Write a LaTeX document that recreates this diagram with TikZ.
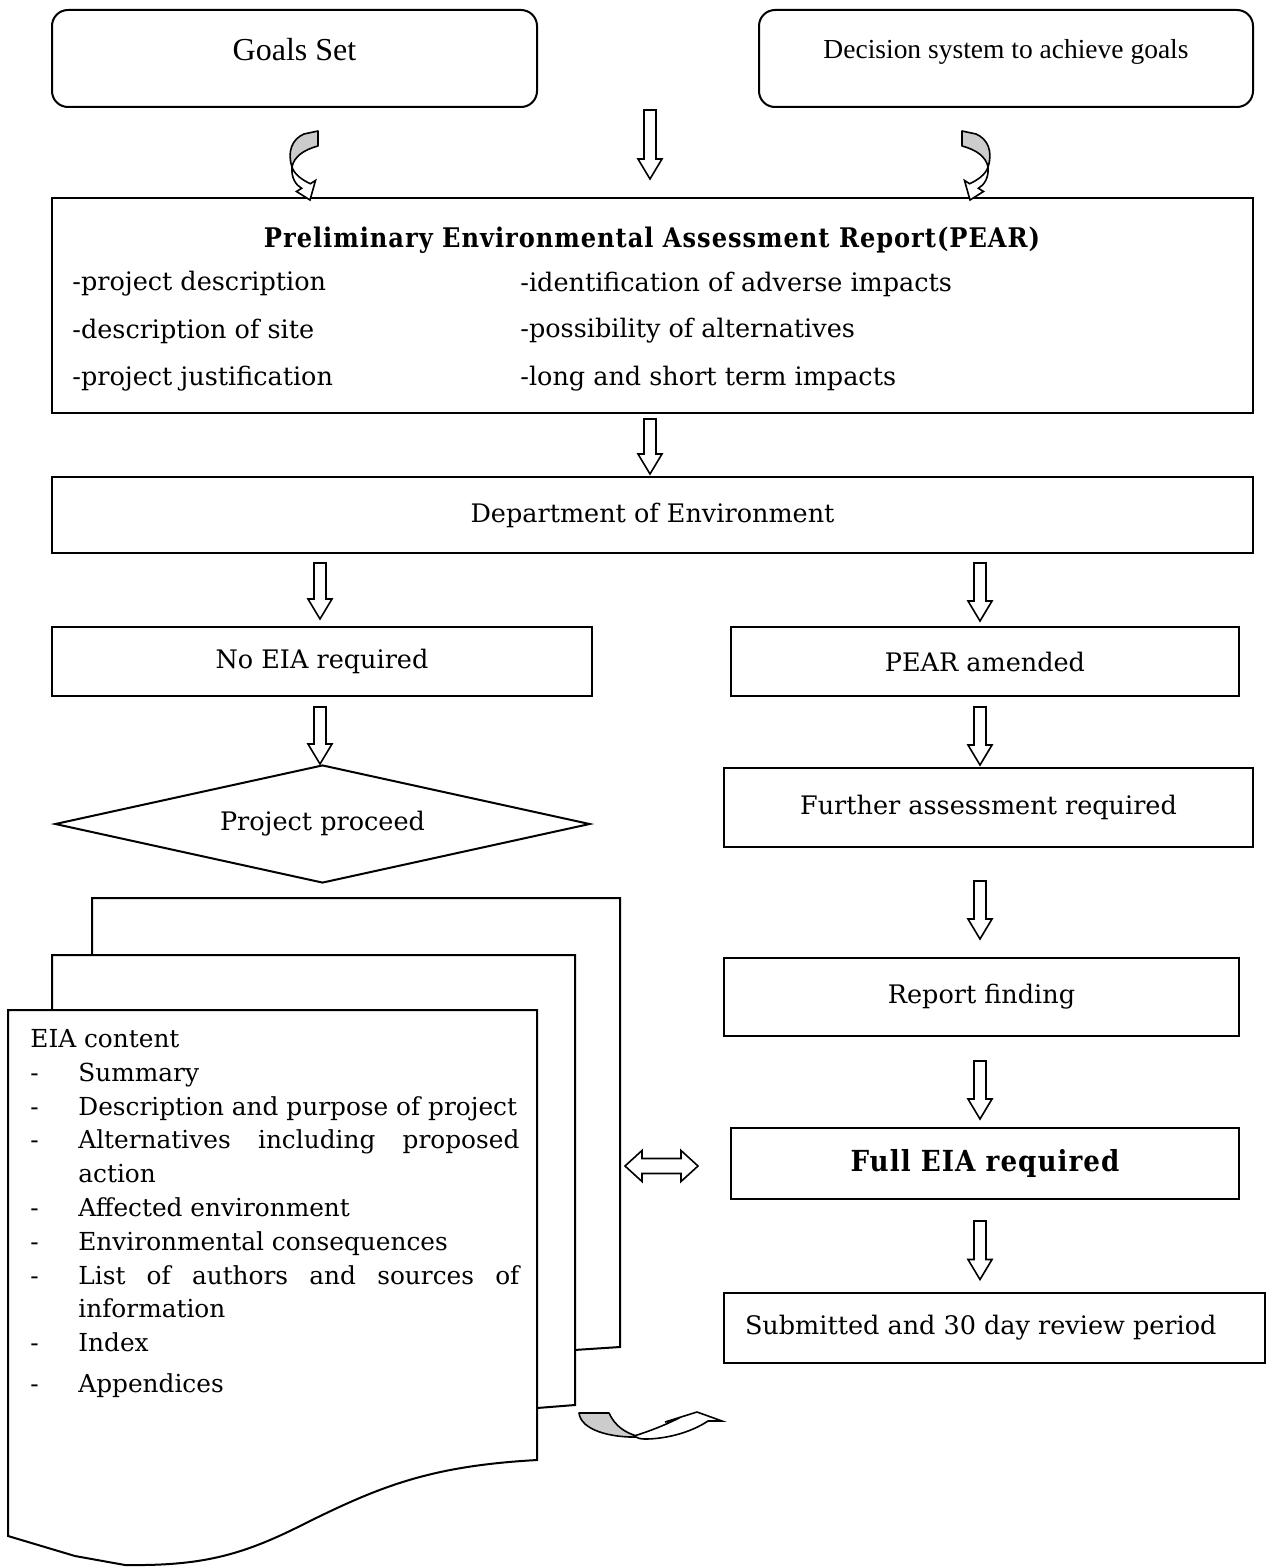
\documentclass[tikz,border=0pt]{standalone}
\usepackage{fontspec}
\setmainfont{DejaVu Serif}
\newfontfamily\timesfont{Liberation Serif}
\newfontfamily\headfont{DejaVu Serif}[LetterSpace=4]
\usetikzlibrary{shapes.geometric,calc}

\definecolor{twistgray}{RGB}{204,204,204}

\tikzset{
  box/.style={draw, line width=1pt, inner sep=0pt, align=center,
    font=\fontsize{12.75}{15}\selectfont},
  goalbox/.style={box, rounded corners=8pt, minimum height=48.5pt},
  item/.style={anchor=west, inner sep=0pt, font=\fontsize{12.75}{15}\selectfont},
  blk/.style={draw, line width=0.8pt, fill=white, line join=miter},
  page/.style={draw, line width=1pt, fill=white, line join=miter},
  twistgray/.style={draw, line width=0.8pt, fill=twistgray, line join=round},
  twistwhite/.style={draw, line width=0.8pt, fill=white, line join=miter},
}

% hollow block arrow pointing down: upper node, lower node, column, gap at top, gap at bottom (pt)
\newcommand\blockdown[5]{%
  \draw[blk] let \p1=(#1.south -| #3), \p2=(#2.north -| #3) in
    (\x1-3pt,\y1-#4pt) -- (\x1-3pt,\y2+#5pt+10pt) -- (\x1-6pt,\y2+#5pt+10pt)
    -- (\x1,\y2+#5pt) -- (\x1+6pt,\y2+#5pt+10pt) -- (\x1+3pt,\y2+#5pt+10pt)
    -- (\x1+3pt,\y1-#4pt) -- cycle;}

% twisted curved arrow (gray back, white front) pointing down
\newcommand\twistarrow{%
  \draw[twistgray] (304,134) -- (318,131) -- (318,146)
    .. controls (303,150) and (294,157) .. (292,167)
    .. controls (287,152) and (292,139) .. (304,134) -- cycle;
  \draw[twistwhite] (292,167) .. controls (291,178) and (296,185) .. (301.6,188.3)
    -- (296.5,191.5) -- (310,200) -- (315.5,180.5) -- (310.4,183.7)
    .. controls (302,180) and (294,174) .. (292,167) -- cycle;}

\begin{document}
\begin{tikzpicture}[x=0.5pt, y=-0.5pt]
\useasboundingbox (0,0) rectangle (1267,1568);

% columns for the block arrows
\coordinate (midcol) at (650,0);
\coordinate (leftcol) at (320,0);
\coordinate (rightcol) at (980,0);

% top row
\node[goalbox, minimum width=242.5pt, text height=10pt, text depth=8pt,
      font=\timesfont\fontsize{16}{18}\selectfont] (goals) at (294.5,58.5) {Goals Set};
\node[goalbox, minimum width=247pt, text height=9pt, text depth=8.5pt,
      font=\timesfont\fontsize{13.75}{16}\selectfont] (decision) at (1006,58.5)
      {Decision system to achieve goals};

% preliminary report
\node[box, minimum width=600.5pt, minimum height=107.5pt] (pear) at (652.5,305.5) {};
\node[inner sep=0pt] (peartitle) at (652,240)
  {\resizebox{388pt}{\height}{\headfont\bfseries\fontsize{13.5}{15}\selectfont Preliminary Environmental Assessment Report(PEAR)}};
\node[item] (i1) at (72,284) {-project description};
\node[item] (i2) at (72,331) {-description of site};
\node[item] (i3) at (72,379) {-project justification};
\node[item] (i4) at (520,284) {-identification of adverse impacts};
\node[item] (i5) at (520,331) {-possibility of alternatives};
\node[item] (i6) at (520,379) {-long and short term impacts};

\node[box, minimum width=600.5pt, minimum height=38pt] (dept) at (652.5,515) {Department of Environment};

% left branch
\node[box, minimum width=270pt, minimum height=34.5pt] (noeia) at (322,661.5) {No EIA required};
\node[draw, line width=1pt, shape=diamond, shape aspect=4.53, inner sep=0pt, minimum width=267.5pt,
      minimum height=59pt, font=\fontsize{12.75}{15}\selectfont] (proceed) at (322.5,824) {Project proceed};

% right branch
\node[box, minimum width=254pt, minimum height=34.5pt] (pearam) at (985,661.5) {PEAR amended};
\node[box, minimum width=264.5pt, minimum height=39.5pt] (further) at (988.5,807.5) {Further assessment required};
\node[box, minimum width=257.5pt, minimum height=39pt] (report) at (981.5,997) {Report finding};
\node[box, minimum width=254pt, minimum height=35.5pt] (full) at (985,1163.5)
  {\resizebox{134.5pt}{\height}{\headfont\bfseries\fontsize{14.5}{16}\selectfont Full EIA required}};
\node[box, minimum width=270.5pt, minimum height=35pt] (submitted) at (994.5,1327.5)
  {\makebox[270.5pt][l]{\hspace{10.5pt}Submitted and 30 day review period}};

% stacked EIA document
\draw[page] (92,898) -- (620,898) -- (620,1347) -- (574,1350) -- (92,1350) -- cycle;
\draw[page] (52,955) -- (575,955) -- (575,1405) -- (537,1408) -- (52,1408) -- cycle;
\draw[page] (8,1010) -- (537,1010) -- (537,1460)
  .. controls (430,1466) and (380,1486) .. (300,1526)
  .. controls (240,1556) and (200,1566) .. (125,1565)
  -- (75,1556) -- (8,1536) -- cycle;
\coordinate (docedge) at (620,1166);
\node[anchor=north west, inner sep=0pt, align=left,
      font=\fontsize{12.4}{16.9}\selectfont] (eia) at (30,1029)
  {EIA content\\
   \makebox[24pt][l]{-}Summary\\
   \makebox[24pt][l]{-}Description and purpose of project\\
   \makebox[24pt][l]{-}\makebox[220.5pt][s]{Alternatives including proposed}\\
   \makebox[24pt][l]{}action\\
   \makebox[24pt][l]{-}Affected environment\\
   \makebox[24pt][l]{-}Environmental consequences\\
   \makebox[24pt][l]{-}\makebox[220.5pt][s]{List of authors and sources of}\\
   \makebox[24pt][l]{}information\\
   \makebox[24pt][l]{-}Index\\[3.75pt]
   \makebox[24pt][l]{-}Appendices};

% block arrows
\blockdown{goals}{pear}{midcol}{1}{9}
\blockdown{pear}{dept}{midcol}{2.5}{1}
\blockdown{dept}{noeia}{leftcol}{4.5}{3.5}
\blockdown{dept}{pearam}{rightcol}{4.5}{2.5}
\blockdown{noeia}{proceed}{leftcol}{5}{0}
\blockdown{pearam}{further}{rightcol}{5}{1}
\blockdown{further}{report}{rightcol}{16.5}{9}
\blockdown{report}{full}{rightcol}{12}{4}
\blockdown{full}{submitted}{rightcol}{10.5}{6}

% two-way arrow between the document and the full EIA box
\draw[blk] let \p1=(docedge), \p2=(full.west) in
  (\x1+2.5pt,\y1) -- (\x1+11pt,\y1+7.75pt) -- (\x1+11pt,\y1+3.75pt)
  -- (\x2-24.5pt,\y1+3.75pt) -- (\x2-24.5pt,\y1+7.75pt) -- (\x2-16pt,\y1)
  -- (\x2-24.5pt,\y1-7.75pt) -- (\x2-24.5pt,\y1-3.75pt)
  -- (\x1+11pt,\y1-3.75pt) -- (\x1+11pt,\y1-7.75pt) -- cycle;

% twisted arrows into the report
\twistarrow
\begin{scope}[shift={(1280,0)}, xscale=-1]
  \twistarrow
\end{scope}

% U-turn arrow under the document
\draw[twistgray] (579,1413) -- (609,1413)
  .. controls (615,1426) and (625,1433) .. (640,1437)
  .. controls (610,1438) and (581,1430) .. (579,1413) -- cycle;
\draw[twistwhite] (634,1436) .. controls (650,1431) and (665,1425) .. (677,1419)
  -- (665,1422) -- (697,1412) -- (722,1421) -- (708,1421)
  .. controls (690,1433) and (665,1439) .. (645,1439)
  .. controls (640,1439) and (637,1438) .. (634,1436) -- cycle;
\end{tikzpicture}
\end{document}
